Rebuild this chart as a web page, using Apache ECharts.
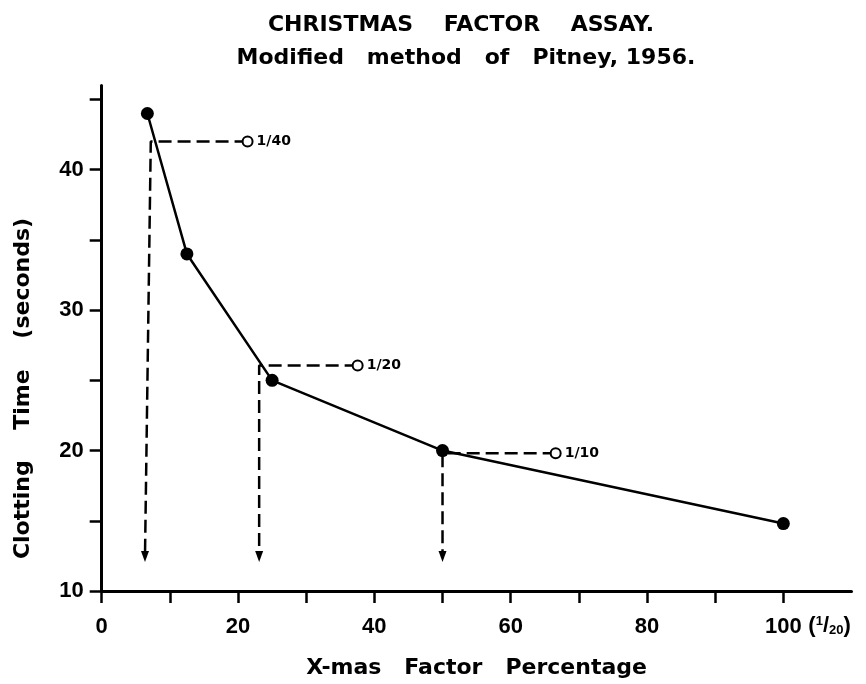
<!DOCTYPE html>
<html><head><meta charset="utf-8">
<script src="https://cdn.jsdelivr.net/npm/echarts@6/dist/echarts.min.js"></script>
<style>html,body{margin:0;padding:0;background:#fff}#c{width:866px;height:684px}</style>
</head><body><div id="c"></div>
<script>
// ---- data ----
const factorPct = [6.7, 12.5, 25, 50, 100];
const clottingTime = [44, 34, 25, 20, 14.8];

const dilutionNames = ['1/40', '1/20', '1/10'];
const dilutionTime = [42, 26.05, 19.8];
const dilutionCircleX = [21.4, 37.55, 66.6];
const dilutionTopX = [7.2, 23.1, 50];
const dilutionArrowX = [6.35, 23.1, 50];
const arrowTime = 12.45;

const yTicks = [10, 15, 20, 25, 30, 35, 40, 45];
const yLabels = [10, 20, 30, 40];
const xTicks = [0, 10, 20, 30, 40, 50, 60, 70, 80, 90, 100];
const xLabels = [0, 20, 40, 60, 80, 100];

const titleText = 'CHRISTMAS    FACTOR    ASSAY.';
const subtitleText = 'Modified   method   of   Pitney, 1956.';
const yName = 'Clotting    Time    (seconds)';
const xName = 'X-mas   Factor   Percentage';

// ---- chart ----
const TITLE_FONT = '"DejaVu Sans", sans-serif';
const TICK_FONT = '"Liberation Sans", Arial, sans-serif';

const chart = echarts.init(document.getElementById('c'), null, {renderer: 'canvas'});

const mainData = factorPct.map((x, i) => [x, clottingTime[i]]);

const dilutionSeries = dilutionNames.map((name, i) => ({
  type: 'line',
  name: name,
  z: 2,
  showSymbol: true,
  silent: true,
  lineStyle: {color: '#000', width: 2.5, type: [13, 6]},
  data: [
    {
      value: [dilutionCircleX[i], dilutionTime[i]],
      symbol: 'circle', symbolSize: 10,
      itemStyle: {color: '#fff', borderColor: '#000', borderWidth: 2},
      label: {
        show: true, position: 'right', distance: 3, formatter: name,
        color: '#000', fontFamily: TITLE_FONT, fontWeight: 'bold', fontSize: 14
      }
    },
    {value: [dilutionTopX[i], dilutionTime[i]], symbol: 'none'},
    {
      value: [dilutionArrowX[i], arrowTime],
      symbol: 'triangle', symbolSize: [8, 11], symbolRotate: 180,
      itemStyle: {color: '#000', borderWidth: 0}
    }
  ]
}));

const option = {
  animation: false,
  backgroundColor: '#fff',
  grid: {left: 101.7, right: 14.5, top: 85.4, bottom: 91, containLabel: false},
  xAxis: {
    type: 'value', min: 0, max: 110, interval: 10,
    axisLine: {lineStyle: {color: '#000', width: 3}},
    axisTick: {customValues: xTicks, length: 12, lineStyle: {color: '#000', width: 2.5}},
    axisLabel: {
      customValues: xLabels, margin: 25, color: '#000',
      fontFamily: TICK_FONT, fontWeight: 'bold', fontSize: 22
    },
    splitLine: {show: false},
    name: xName, nameLocation: 'middle', nameGap: 66,
    nameTextStyle: {color: '#000', fontFamily: TITLE_FONT, fontWeight: 'bold', fontSize: 22}
  },
  yAxis: {
    type: 'value', min: 10, max: 46, interval: 5,
    axisLine: {lineStyle: {color: '#000', width: 3}},
    axisTick: {customValues: yTicks, length: 12, lineStyle: {color: '#000', width: 2.5}},
    axisLabel: {
      customValues: yLabels, margin: 18, color: '#000',
      fontFamily: TICK_FONT, fontWeight: 'bold', fontSize: 22
    },
    splitLine: {show: false}
  },
  series: [
    ...dilutionSeries,
    {
      type: 'line', name: 'Clotting time', z: 3, silent: true,
      symbol: 'circle', symbolSize: 13, showSymbol: true,
      itemStyle: {color: '#000'},
      lineStyle: {color: '#000', width: 2.5},
      data: mainData
    }
  ]
};
chart.setOption(option);

// text annotations placed relative to the axes
const x100 = chart.convertToPixel({xAxisIndex: 0}, 100);
const y10 = chart.convertToPixel({yAxisIndex: 0}, 10);
const yTop = chart.convertToPixel({yAxisIndex: 0}, 46);

chart.setOption({
  graphic: [
    {
      type: 'text', x: 461, y: 25,
      style: {text: titleText, fill: '#000', fontFamily: TITLE_FONT, fontWeight: 'bold', fontSize: 22,
              align: 'center', verticalAlign: 'middle'}
    },
    {
      type: 'text', x: 466, y: 58,
      style: {text: subtitleText, fill: '#000', fontFamily: TITLE_FONT, fontWeight: 'bold', fontSize: 22,
              align: 'center', verticalAlign: 'middle'}
    },
    {
      type: 'text', x: 23.5, y: 388.5, rotation: Math.PI / 2,
      style: {text: yName, fill: '#000', fontFamily: TITLE_FONT, fontWeight: 'bold', fontSize: 22,
              align: 'center', verticalAlign: 'middle'}
    },
    {
      type: 'text', x: x100 + 25, y: y10 + 35,
      style: {
        text: '{p|(}{sup|1}{p|/}{sub|20}{p|)}',
        align: 'left', verticalAlign: 'middle',
        rich: {
          p: {fill: '#000', fontFamily: TICK_FONT, fontWeight: 'bold', fontSize: 22},
          sup: {fill: '#000', fontFamily: TICK_FONT, fontWeight: 'bold', fontSize: 13, verticalAlign: 'top'},
          sub: {fill: '#000', fontFamily: TICK_FONT, fontWeight: 'bold', fontSize: 13, verticalAlign: 'bottom'}
        }
      }
    }
  ]
});
</script>
</body></html>
